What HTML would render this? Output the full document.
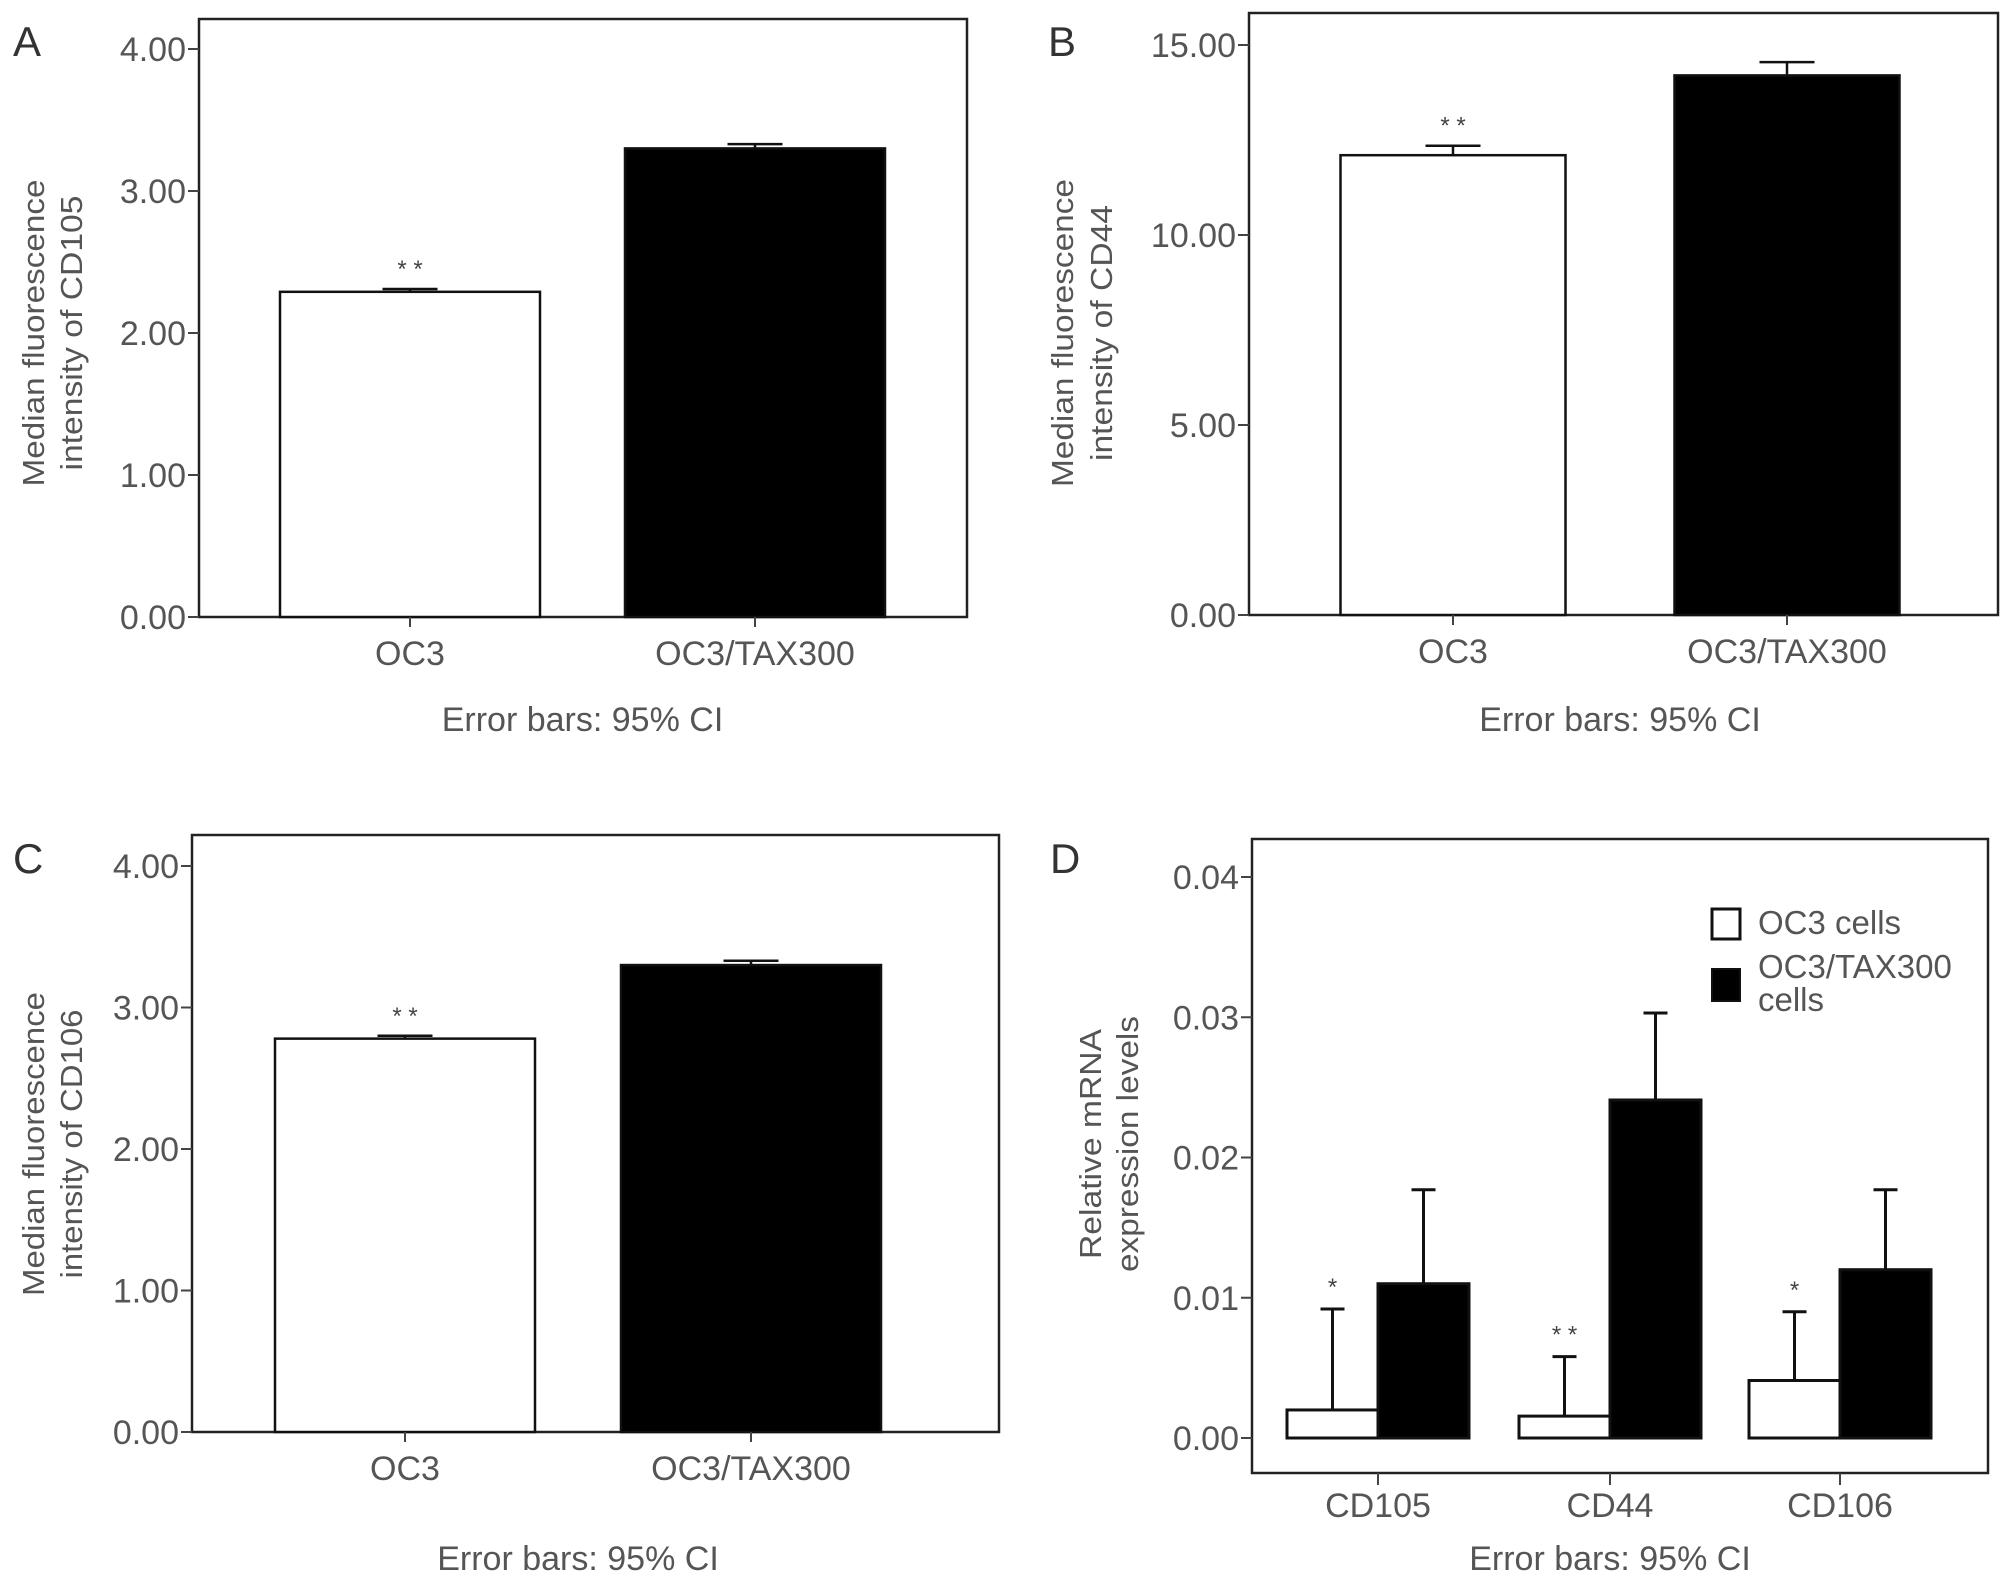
<!DOCTYPE html>
<html><head><meta charset="utf-8">
<style>
html,body{margin:0;padding:0;background:#fff;overflow:hidden;}
svg{display:block;font-family:"Liberation Sans",Arial,sans-serif;}
</style></head>
<body>
<svg id="fig" width="2008" height="1583" viewBox="0 0 2008 1583" xmlns="http://www.w3.org/2000/svg"></svg>
<script>
// ---- data ----
const catsABC = ["OC3", "OC3/TAX300"];
const valsA = [2.29, 3.30];
const errA = [2.31, 3.33];
const ticksA = ["0.00", "1.00", "2.00", "3.00", "4.00"];
const valsB = [12.1, 14.2];
const errB = [12.35, 14.55];
const ticksB = ["0.00", "5.00", "10.00", "15.00"];
const valsC = [2.78, 3.30];
const errC = [2.80, 3.33];
const ticksC = ["0.00", "1.00", "2.00", "3.00", "4.00"];
const catsD = ["CD105", "CD44", "CD106"];
const valsDwhite = [0.0020, 0.00156, 0.0041];
const errDwhite = [0.0092, 0.0058, 0.0090];
const valsDblack = [0.0110, 0.0241, 0.0120];
const errDblack = [0.0177, 0.0303, 0.0177];
const ticksD = ["0.00", "0.01", "0.02", "0.03", "0.04"];
const starsABC = ["* *", null];
const starsD = ["*", "* *", "*"];

const NS = "http://www.w3.org/2000/svg";
const svg = document.getElementById("fig");
function el(tag, attrs, parent) {
  const e = document.createElementNS(NS, tag);
  for (const k in attrs) e.setAttribute(k, attrs[k]);
  (parent || svg).appendChild(e);
  return e;
}
function txt(s, attrs, parent) { const t = el("text", attrs, parent); t.textContent = s; return t; }

function axisFrame(g, P, ticks) {
  const f = el("rect", {x: P.left, y: P.top, width: P.right - P.left, height: P.bottom - P.top, fill: "none", stroke: "#222", "stroke-width": 2.5}, g);
  
  
  ticks.forEach((t) => {
    const y = P.y(parseFloat(t));
    el("line", {x1: P.left - 11, x2: P.left, y1: y, y2: y, stroke: "#444", "stroke-width": 2}, g);
    const l = txt(t, {x: P.left - 13, y: y + 12, "text-anchor": "end", "font-size": 34, fill: "#555"}, g);
    
    
  });
}
function yTitle(g, lines, xs, cy, lens) {
  lines.forEach((s, i) => {
    const t = txt(s, {transform: `translate(${xs[i]},${cy}) rotate(-90)`, "text-anchor": "middle", "font-size": 31, fill: "#555", textLength: lens[i], lengthAdjust: "spacingAndGlyphs"}, g);
    
    
  });
}
function errBar(g, x, y0, y1, cap, w) {
  el("line", {x1: x, x2: x, y1: y0, y2: y1, stroke: "#111", "stroke-width": w}, g);
  const c = el("line", {x1: x - cap / 2, x2: x + cap / 2, y1: y1, y2: y1, stroke: "#111", "stroke-width": w}, g);
  
  
}

function simplePanel(name, letter, P, vals, errs, ticks, titleLines, tx, tcy, tlens, lx, ly) {
  const g = el("g", {});
  
  
  P.y = v => P.bottom - v / P.max * (P.bottom - P.topTick);
  axisFrame(g, P, ticks);
  catsABC.forEach((c, i) => {
    const cx = P.cx[i];
    const y = P.y(vals[i]);
    const b = el("rect", {x: cx - P.bw / 2, y: y, width: P.bw, height: P.bottom - y, fill: i ? "#000" : "#fff", stroke: "#111", "stroke-width": 2.5}, g);
    
    
    errBar(g, cx, y, P.y(errs[i]), P.cap, 2.5);
    el("line", {x1: cx, x2: cx, y1: P.bottom, y2: P.bottom + 10, stroke: "#444", "stroke-width": 2}, g);
    const xl = txt(c, {x: cx, y: P.bottom + 48, "text-anchor": "middle", "font-size": 34, fill: "#555"}, g);
    
    
    if (starsABC[i]) {
      const s = txt(starsABC[i], {x: cx, y: P.y(errs[i]) - 12, "text-anchor": "middle", "font-size": 24, fill: "#444"}, g);
      
      
    }
  });
  const e = txt("Error bars: 95% CI", {x: (P.cx[0] + P.cx[1]) / 2, y: P.errY, "text-anchor": "middle", "font-size": 34, fill: "#555"}, g);
  
  
  yTitle(g, titleLines, tx, tcy, tlens);
  const L = txt(letter, {x: lx, y: ly, "font-size": 42, fill: "#333"}, g);
  
  
}

simplePanel("panel-a", "A", {left: 199, right: 967, top: 19, bottom: 617, topTick: 49, max: 4, cx: [410, 755], bw: 260, cap: 55, errY: 731},
  valsA, errA, ticksA, ["Median fluorescence", "intensity of CD105"], [44, 82], 333, [307, 275], 13, 56);
simplePanel("panel-b", "B", {left: 1249, right: 1998, top: 13, bottom: 615, topTick: 45, max: 15, cx: [1453, 1787], bw: 225, cap: 55, errY: 731},
  valsB, errB, ticksB, ["Median fluorescence", "intensity of CD44"], [1073, 1112], 333, [308, 256], 1048, 56);
simplePanel("panel-c", "C", {left: 192, right: 999, top: 835, bottom: 1432, topTick: 866, max: 4, cx: [405, 751], bw: 260, cap: 55, errY: 1570},
  valsC, errC, ticksC, ["Median fluorescence", "intensity of CD106"], [44, 82], 1144, [304, 269], 13, 873);

// Panel D
(function () {
  const g = el("g", {});
  
  
  const P = {left: 1252, right: 1988, top: 839, bottom: 1473};
  const y0 = 1438, yTop = 877;
  P.y = v => y0 - v / 0.04 * (y0 - yTop);
  axisFrame(g, P, ticksD);
  const gx = [1378, 1610, 1840], bw = 91;
  catsD.forEach((c, i) => {
    const cx = gx[i];
    const yw = P.y(valsDwhite[i]);
    const w = el("rect", {x: cx - bw, y: yw, width: bw, height: y0 - yw, fill: "#fff", stroke: "#111", "stroke-width": 3}, g);
    
    
    errBar(g, cx - bw / 2, yw, P.y(errDwhite[i]), 24, 3);
    const yb = P.y(valsDblack[i]);
    const b = el("rect", {x: cx, y: yb, width: bw, height: y0 - yb, fill: "#000", stroke: "#111", "stroke-width": 3}, g);
    
    
    errBar(g, cx + bw / 2, yb, P.y(errDblack[i]), 24, 3);
    el("line", {x1: cx, x2: cx, y1: P.bottom, y2: P.bottom + 12, stroke: "#444", "stroke-width": 2}, g);
    const xl = txt(c, {x: cx, y: 1517, "text-anchor": "middle", "font-size": 34, fill: "#555"}, g);
    
    
    const s = txt(starsD[i], {x: cx - bw / 2, y: P.y(errDwhite[i]) - 14, "text-anchor": "middle", "font-size": 24, fill: "#444"}, g);
    
    
  });
  const e = txt("Error bars: 95% CI", {x: 1610, y: 1570, "text-anchor": "middle", "font-size": 34, fill: "#555"}, g);
  
  
  yTitle(g, ["Relative mRNA", "expression levels"], [1101, 1138], 1144, [230, 256]);
  const L = txt("D", {x: 1050, y: 873, "font-size": 42, fill: "#333"}, g);
  
  
  // legend
  const lg = el("g", {}, g);
  
  
  const k1 = el("rect", {x: 1712, y: 909, width: 28, height: 30, fill: "#fff", stroke: "#111", "stroke-width": 3}, lg);
  
  
  const t1 = txt("OC3 cells", {x: 1758, y: 934, "font-size": 33, fill: "#555"}, lg);
  
  
  const k2 = el("rect", {x: 1712, y: 969, width: 28, height: 32, fill: "#000", stroke: "#111", "stroke-width": 2}, lg);
  
  
  const t2 = txt("OC3/TAX300", {x: 1758, y: 978, "font-size": 33, fill: "#555"}, lg);
  
  
  const t3 = txt("cells", {x: 1758, y: 1011, "font-size": 33, fill: "#555"}, lg);
  
  
})();
</script>
</body></html>
